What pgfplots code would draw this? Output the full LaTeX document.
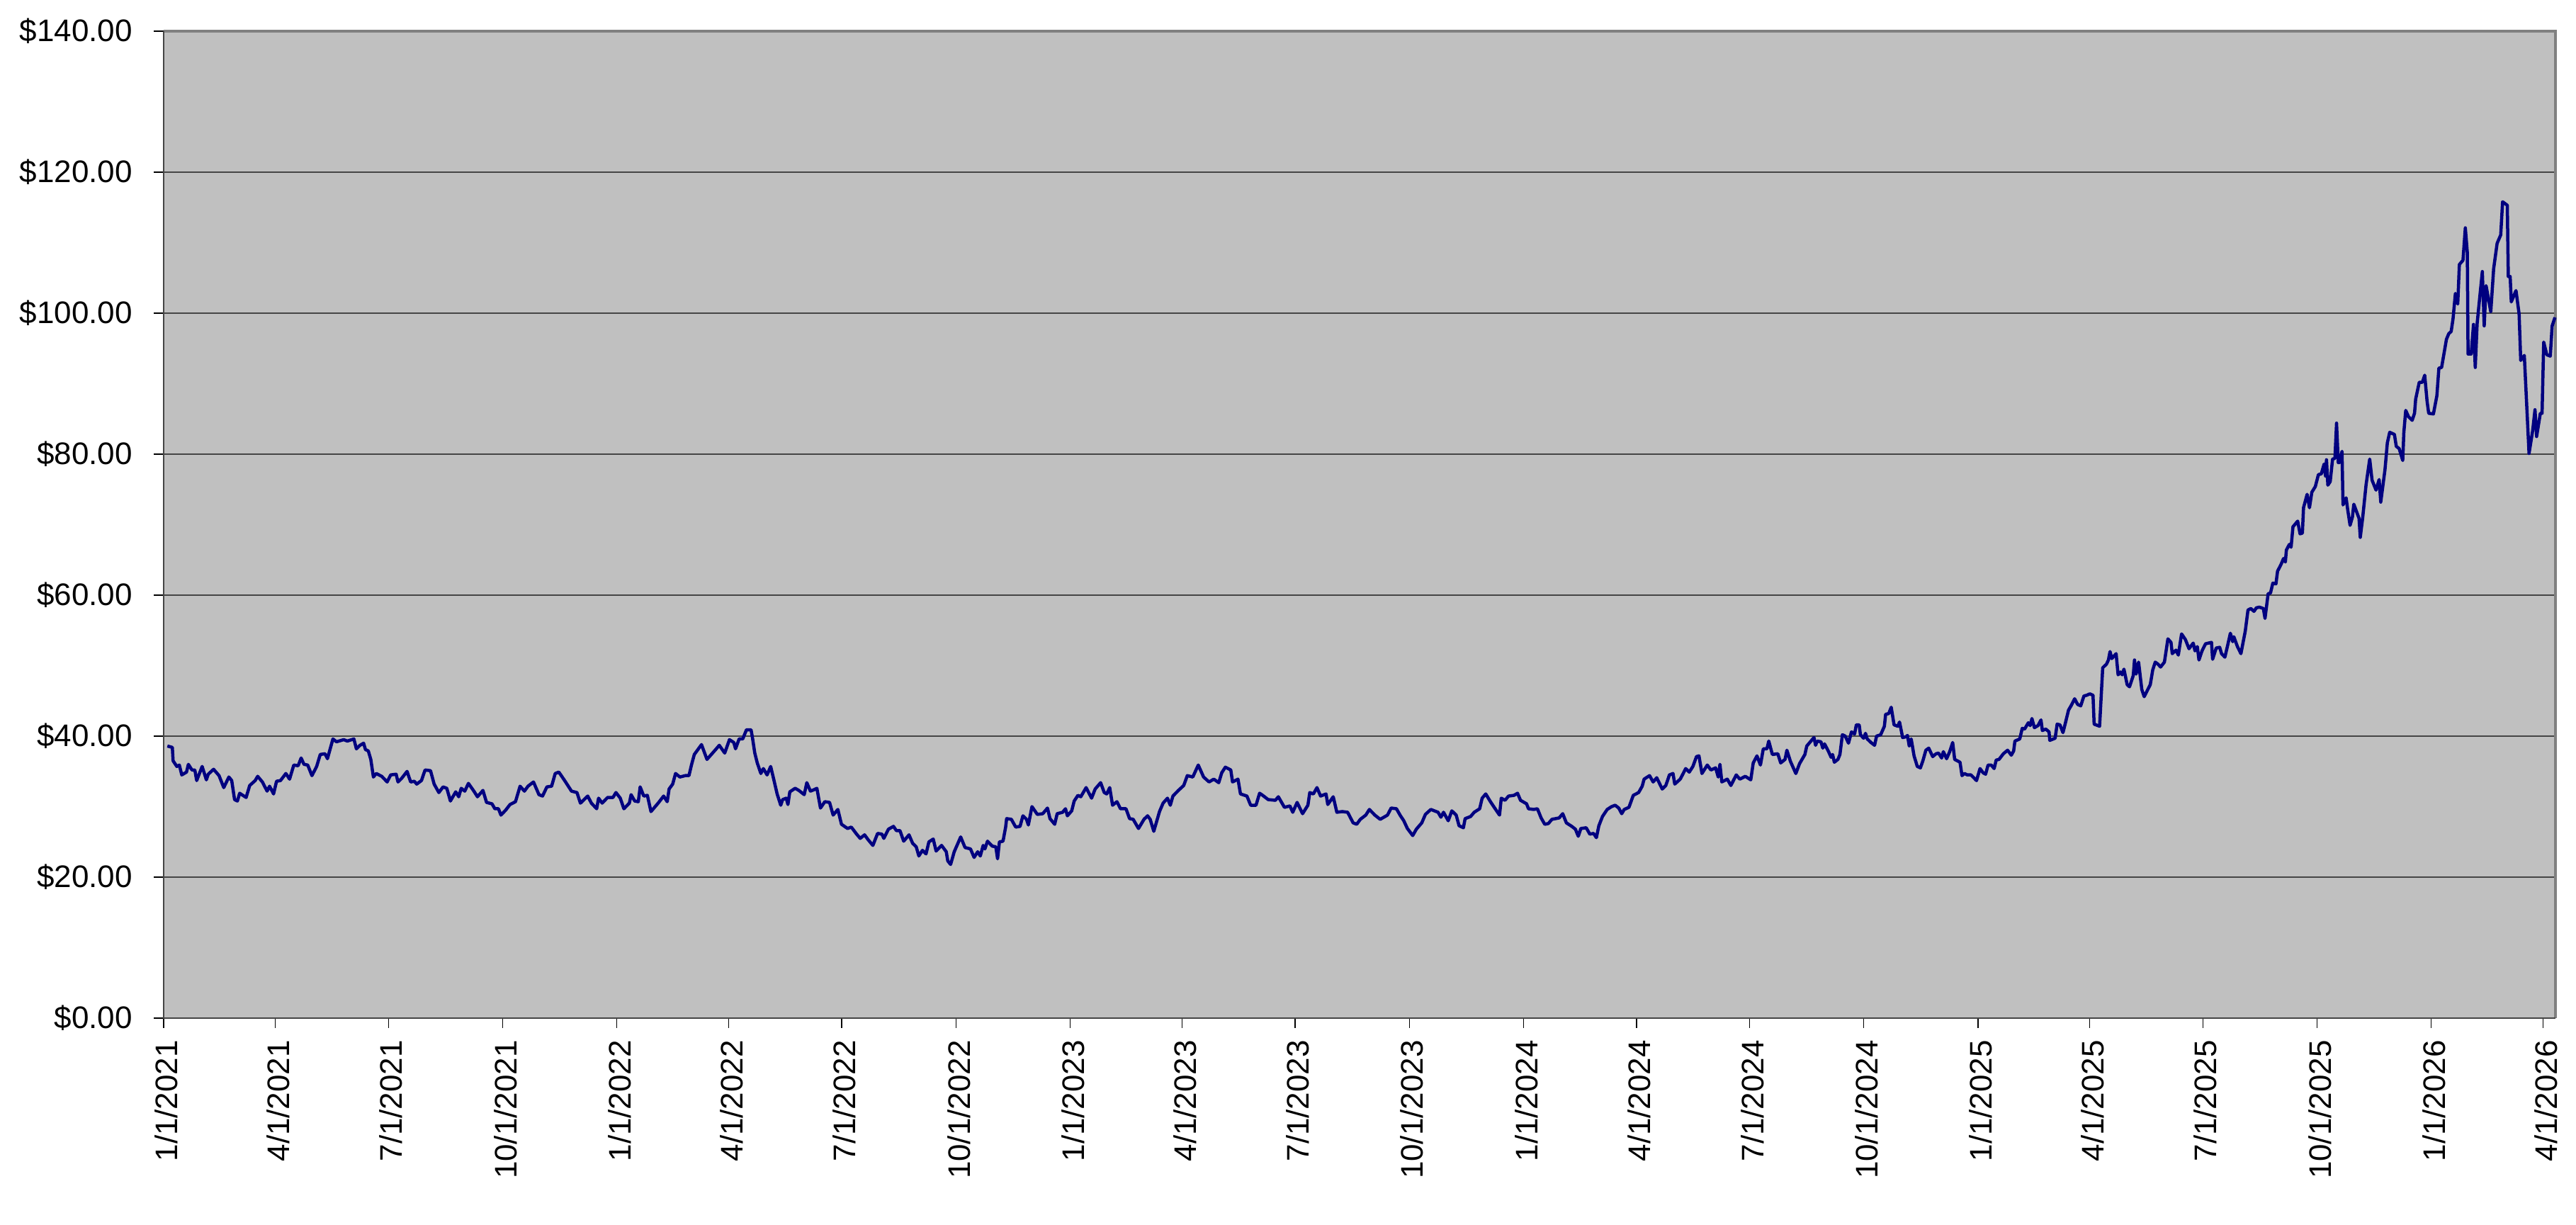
\documentclass[border=0pt]{standalone}
\usepackage{pgfplots}
\pgfplotsset{compat=1.18}
\usepackage{fontspec}
\setmainfont{Liberation Sans}
\definecolor{plotbg}{HTML}{C0C0C0}
\definecolor{gridc}{HTML}{454545}
\definecolor{framec}{HTML}{808080}
\definecolor{linec}{HTML}{000080}
\begin{document}
\begin{tikzpicture}
\begin{axis}[
  at={(0,0)}, anchor=south west,
  scale only axis, width=675.2pt, height=278.6pt,
  xmin=0, xmax=1926, ymin=0, ymax=140,
  axis background/.style={fill=plotbg},
  axis line style={draw=none},
  ymajorgrids, major grid style={draw=gridc, line width=0.3pt},
  tick align=outside, tick pos=left,
  major tick length=2.7pt,
  tick style={draw=black, line width=0.25pt},
  ytick={0,20,40,60,80,100,120,140},
  yticklabels={\$0.00,\$20.00,\$40.00,\$60.00,\$80.00,\$100.00,\$120.00,\$140.00},
  xtick={0,90,181,273,365,455,546,638,730,820,911,1003,1095,1186,1277,1369,1461,1551,1642,1734,1826,1916},
  xticklabels={1/1/2021,4/1/2021,7/1/2021,10/1/2021,1/1/2022,4/1/2022,7/1/2022,10/1/2022,1/1/2023,4/1/2023,7/1/2023,10/1/2023,1/1/2024,4/1/2024,7/1/2024,10/1/2024,1/1/2025,4/1/2025,7/1/2025,10/1/2025,1/1/2026,4/1/2026},
  ticklabel style={font=\fontsize{8.8pt}{10pt}\selectfont},
  yticklabel style={xshift=-2.6pt},
  xticklabel style={rotate=90, anchor=east, yshift=-0.8pt},
  clip=false,
]
\draw[framec, line width=0.7pt] (rel axis cs:0,1) -- (rel axis cs:1,1) -- (rel axis cs:1,0);
\draw[gridc, line width=0.35pt] (rel axis cs:0,1) -- (rel axis cs:0,0) -- (rel axis cs:1,0);
\addplot[linec, line width=0.9pt, line join=round, mark=none] coordinates {
(3,38.6)(7,38.4)(7.6,36.5)(10.6,35.7)(12.6,35.9)(14.6,34.5)(18.4,34.9)(19.9,36.0)(22.8,35.2)(25.1,35.2)(26.6,33.7)(31,35.7)(34.4,33.8)(35.9,34.6)(40.2,35.3)(44.6,34.4)(48.4,32.7)(52.5,34.2)(54.8,33.7)(57.1,31.0)(59.4,30.8)(61.2,31.9)(66.4,31.3)(69.3,33.0)(73.7,33.7)(75.7,34.3)(79.5,33.5)(83.3,32.2)(85.3,32.9)(88.5,31.8)(90.9,33.6)(94.1,33.7)(98.4,34.7)(101.4,33.9)(104.8,35.9)(108.3,35.8)(110.7,36.9)(113,36.0)(116,35.9)(119.4,34.4)(123.2,35.7)(126.1,37.4)(129.9,37.5)(131.9,36.8)(136.3,39.6)(139.2,39.2)(145,39.5)(147.9,39.3)(153.2,39.6)(155.2,38.2)(158.1,38.7)(161,39.0)(162.5,38.1)(164.8,37.9)(166.8,36.7)(168.9,34.2)(171.2,34.7)(175.6,34.3)(180,33.5)(182.8,34.5)(187.2,34.6)(188.7,33.5)(191.6,34.0)(196,35.0)(198.9,33.5)(201.8,33.6)(203.8,33.2)(207.6,33.7)(210.5,35.2)(214.9,35.1)(217.8,33.2)(221.6,32.0)(225,32.8)(228,32.6)(230.9,30.8)(235.2,32.1)(237.6,31.4)(239.6,32.6)(242.5,32.2)(245.4,33.3)(249.8,32.2)(252.7,31.4)(257.1,32.3)(260,30.6)(264.4,30.4)(266.7,29.7)(269.6,29.7)(271.6,28.8)(275.4,29.5)(278.9,30.3)(283.3,30.7)(287,32.9)(290.5,32.2)(293.4,32.9)(297.8,33.5)(302.2,31.7)(305.1,31.5)(308.6,32.8)(312.4,32.9)(315.3,34.7)(318.2,34.9)(320.2,34.4)(324,33.4)(328.4,32.2)(332.8,32.0)(335.6,30.5)(341.5,31.5)(344.4,30.5)(348.7,29.7)(350.2,31.2)(353.1,30.5)(357.5,31.3)(361.8,31.3)(364.2,32.0)(367.7,31.2)(370.6,29.7)(375,30.5)(376.4,31.7)(379.3,30.8)(382.2,30.7)(383.7,32.8)(386.6,31.5)(389.5,31.6)(392.4,29.3)(398.2,30.5)(402.6,31.5)(405.5,30.7)(407,32.5)(409.9,33.2)(412.2,34.7)(415.7,34.2)(420,34.4)(423,34.4)(425,35.9)(427.3,37.4)(433.1,38.8)(437.5,36.7)
(444.5,38.1)(447.4,38.7)(451.8,37.6)(455.6,39.5)(459.1,39.1)(460.5,38.2)(463.4,39.6)(466.3,39.6)(469.3,40.9)(473,40.9)(474.2,39.7)(476,37.6)(478,36.2)(480.9,34.7)(482.9,35.4)(485.9,34.5)(488.8,35.7)(491.1,34.0)(494,31.8)(496.9,30.2)(498.4,31.0)(501.3,31.2)(502.7,30.3)(504.2,32.1)(508.5,32.6)(511.5,32.3)(515.8,31.7)(517.9,33.4)(520.8,32.2)(523.7,32.4)(526,32.6)(528.9,29.8)(532.4,30.7)(536.2,30.6)(539.1,28.8)(542.9,29.6)(545.8,27.5)(550.7,26.9)(553.7,27.1)(558,26.1)(560.9,25.5)(564.4,26.0)(567.3,25.3)(571.1,24.5)(574.9,26.2)(578.4,26.1)(579.9,25.5)(583.6,26.8)(587.7,27.2)(590,26.6)(592.9,26.6)(595.9,25.1)(600.2,26.0)(603.1,24.8)(606,24.3)(608.1,23.0)(611,23.8)(613.9,23.3)(616.2,25.0)(619.7,25.4)(622,23.7)(626.4,24.5)(630.2,23.6)(631.4,22.3)(633.7,21.8)(636.6,23.6)(641.8,25.7)(645.3,24.2)(649.7,24.0)(652.6,22.8)(655.5,23.6)(657.6,23.0)(659.9,24.5)(661.3,24.0)(663.4,25.1)(667.2,24.4)(670.1,24.3)(671.5,22.6)(673,25.0)(675.9,25.1)(678,27.1)(678.8,28.3)(682.6,28.2)(686.1,27.1)(689.6,27.2)(691.9,28.7)(694.8,28.2)(696.3,27.4)(699.2,30.0)(703.5,28.9)(707.9,29.0)(711.7,29.8)(713.7,28.3)(717.5,27.5)(719.5,29.0)(723.9,29.2)(726.2,29.7)(727.7,28.7)(731.2,29.4)(733.2,30.8)(736.2,31.6)(738.5,31.4)(742.8,32.7)(747.2,31.2)(750.1,32.5)(754.5,33.4)(757.4,32.0)(759.4,31.8)(761.8,32.7)(764.1,30.2)(767.6,30.7)(770.5,29.7)(774.9,29.7)(777.8,28.3)(780.7,28.2)(785,26.9)(789.4,28.2)(792.3,28.7)(794.4,28.2)(797.3,26.5)(801.9,29.3)(804.8,30.5)(808.3,31.2)(810.6,30.2)(812.7,31.5)(817.1,32.3)(821.4,33.0)(824.3,34.4)(828.7,34.2)(833.1,35.9)(837.4,34.2)(841.8,33.5)(845.6,33.9)(849.6,33.4)(852,34.8)(854.9,35.6)(859.3,35.2)(860.7,33.5)(865.1,33.9)(867.1,31.8)(872.3,31.5)(875.3,30.2)(879.6,30.2)(882.5,31.9)
(885,31.6)(889.4,31.0)(895.2,30.9)(897.6,31.4)(902.5,29.9)(906.9,30.1)(909.2,29.2)(912.7,30.6)(917.1,29.0)(921.4,30.2)(922.9,32.0)(925.8,31.8)(928.7,32.7)(931.6,31.5)(936,31.8)(937.4,30.3)(941.8,31.4)(944.7,29.2)(949.1,29.3)(953.4,29.2)(957.8,27.7)(960.7,27.5)(963.6,28.2)(968,28.8)(970.9,29.6)(975.3,28.8)(979.6,28.2)(985.5,28.8)(988.4,29.8)(992.7,29.7)(995.6,28.8)(998.6,28.0)(1001.5,26.9)(1005.8,25.9)(1008.7,26.8)(1013.1,27.7)(1016,28.9)(1020.4,29.6)(1026.2,29.2)(1028.5,28.5)(1030.6,29.2)(1034.4,28.0)(1037.3,29.4)(1040.8,28.8)(1043.1,27.3)(1046.6,27.0)(1048,28.3)(1052.4,28.6)(1055.3,29.2)(1059.7,29.7)(1061.7,31.2)(1064.6,31.8)(1068.4,30.7)(1072.2,29.7)(1075.7,28.8)(1077.1,31.2)(1080.1,30.9)(1083,31.5)(1087.3,31.6)(1090.2,31.9)(1092.6,30.9)(1097.5,30.4)(1099,29.7)(1103.3,29.6)(1106.2,29.7)(1109.2,28.4)(1112.1,27.5)(1115,27.6)(1117.9,28.2)(1120.8,28.3)(1123.7,28.4)(1126.6,29.0)(1129.5,27.7)(1133.9,27.2)(1136.8,26.8)(1139.1,25.8)(1141.2,26.9)(1145.5,27.0)(1148.4,26.1)(1151.4,26.2)(1153.7,25.6)(1155.7,27.3)(1158.6,28.6)(1162.4,29.6)(1165.9,30.0)(1168.8,30.2)(1171.7,29.8)(1174.1,29.0)(1176.1,29.6)(1179.9,29.9)(1183.4,31.6)(1187.7,32.0)(1190.6,32.9)(1192.1,33.9)(1196.5,34.4)(1199.4,33.5)(1202.3,34.1)(1206.7,32.5)(1209.6,33.0)(1212.5,34.5)(1215.4,34.7)(1216.8,33.2)(1221.2,33.9)(1222.7,34.4)(1225.6,35.4)(1228.5,34.9)(1231.4,35.7)(1234.3,37.1)(1236.3,37.2)(1238.7,34.7)(1243,35.9)(1245.9,35.2)(1249.7,35.5)(1251.8,34.2)(1253.2,36.0)(1254.7,33.5)(1259.1,33.9)(1262,33.0)(1266.3,34.5)(1269.2,33.9)(1273.6,34.3)(1278,33.8)(1280,36.2)(1283,37.2)(1285.8,35.9)(1288.1,38.2)(1291,38.2)(1292.5,39.3)(1295.4,37.4)(1299.8,37.5)(1302.1,36.2)(1305.6,36.7)(1307.1,38.0)(1310,36.4)(1314.3,34.7)(1317.3,36.1)(1321.6,37.4)(1323.1,38.6)(1328.9,39.8)
(1330.2,38.7)(1331.5,39.3)(1334.5,39.2)(1336,38.3)(1337.4,38.9)(1340.4,37.9)(1342.7,37.0)(1343.9,37.4)(1345.3,36.3)(1348.2,36.7)(1349.8,37.4)(1351.8,40.2)(1354.1,40.0)(1356.7,39.0)(1359.1,40.6)(1361.6,40.3)(1363,41.6)(1365.3,41.6)(1366.3,40.2)(1368.9,39.7)(1370.4,40.4)(1371.8,39.6)(1374.8,39.1)(1377.7,38.7)(1379.3,40.0)(1382.6,40.2)(1385.6,41.4)(1386.6,43.1)(1389.1,43.2)(1391.1,44.1)(1393.4,41.6)(1396.4,41.4)(1397.8,42.0)(1400.3,39.8)(1402.9,39.9)(1404.2,40.1)(1405.6,38.6)(1407.2,39.6)(1409.5,37.2)(1412.1,35.7)(1414.6,35.5)(1416.6,36.5)(1419,38.0)(1421.3,38.3)(1424.5,37.1)(1427.2,37.5)(1429.2,37.6)(1431.7,36.9)(1433.1,37.8)(1435.7,36.8)(1438.2,37.8)(1440.6,39.1)(1442.2,36.7)(1446.5,36.3)(1448.1,34.4)(1450,34.7)(1452.4,34.5)(1455.3,34.5)(1459.8,33.7)(1462.6,35.4)(1465.1,34.8)(1467.1,34.6)(1469.1,35.9)(1471.6,35.9)(1474,35.4)(1475.6,36.6)(1477.9,36.7)(1481.4,37.5)(1484.8,38.0)(1487.8,37.3)(1489.7,37.9)(1490.7,39.3)(1494.6,39.6)(1496.6,41.1)(1498.5,41.0)(1501.5,41.9)(1503,41.5)(1504.4,42.5)(1506.4,41.2)(1509.3,41.5)(1511.7,42.3)(1512.8,40.8)(1515.6,41.0)(1518.2,40.6)(1518.8,39.4)(1523.1,39.7)(1524.7,41.7)(1527,41.6)(1529.4,40.5)(1531.4,41.9)(1533.9,43.7)(1535.9,44.3)(1538.8,45.3)(1541.2,44.5)(1543.7,44.3)(1546.3,45.7)(1548.6,45.8)(1551,46.0)(1553.6,45.8)(1554.5,41.7)(1558.9,41.4)(1561.4,49.7)(1564.4,50.2)(1566,50.8)(1567.3,52.0)(1568.7,51.0)(1572.2,51.7)(1573.8,48.7)(1575.8,49.1)(1577.1,48.7)(1578.5,49.5)(1581.1,47.3)(1583,47.0)(1586,48.6)(1587,50.8)(1588.3,48.8)(1590.3,50.5)(1592.9,46.6)(1594.8,45.6)(1596.8,46.3)(1599.7,47.3)(1601.7,49.4)(1603.7,50.5)(1606,50.2)(1608,49.8)(1611.1,50.5)(1613.9,53.8)(1616.4,53.3)(1617.4,51.7)(1620.4,52.2)(1622.3,51.5)(1624.9,54.5)
(1628,53.7)(1630.9,52.4)(1634.3,53.2)(1635.7,52.1)(1637.6,52.7)(1638.9,50.8)(1641.4,52.1)(1644.2,53.1)(1649,53.3)(1649.9,50.9)(1652.8,52.5)(1655.6,52.6)(1657.1,51.7)(1659.8,51.2)(1662.3,53.1)(1664.2,54.6)(1666.1,53.4)(1667,54.1)(1669.9,52.7)(1672.7,51.7)(1676.2,54.9)(1678.4,57.9)(1680.7,58.1)(1683.2,57.7)(1685.1,58.2)(1687.6,58.3)(1690.8,58.1)(1692.1,56.7)(1694.6,60.2)(1696.5,60.3)(1698.4,61.7)(1700.9,61.6)(1702.2,63.4)(1705.1,64.4)(1707,65.2)(1708.5,64.7)(1709.3,66.4)(1711.7,67.2)(1713.1,66.8)(1714.6,69.7)(1718.4,70.5)(1720.3,68.7)(1722.2,68.8)(1723.1,72.4)(1726,74.3)(1727.9,72.4)(1729.8,74.6)(1732.6,75.4)(1735.1,77.1)(1737.4,77.2)(1739.7,78.6)(1740.8,76.9)(1741.6,79.2)(1742.7,75.6)(1744.6,76.1)(1746.5,79.3)(1748.4,79.4)(1749.7,84.4)(1751.1,78.8)(1752.2,78.8)(1754.1,80.4)(1754.9,72.8)(1757.4,73.8)(1758.7,72.1)(1760.6,69.9)(1762.5,71.1)(1763.6,72.9)(1765.9,71.8)(1767.8,70.9)(1768.8,68.2)(1770.7,70.9)
(1773.5,75.7)(1776.4,79.3)(1778.3,76.3)(1781.5,74.9)(1784,76.4)(1785.3,73.2)(1788.7,77.8)(1790.6,81.6)(1792.5,83.1)(1796.3,82.8)(1797.8,81.1)(1800.1,80.8)(1803,79.1)(1803.9,83.1)(1805.4,86.2)(1807.7,85.3)(1810.6,84.8)(1812.5,85.8)(1813.4,87.8)(1816.3,90.2)(1818.8,90.2)(1820.7,91.2)(1822.6,87.5)(1823.9,85.8)(1827.7,85.7)(1830.5,88.3)(1832.1,92.2)(1834.3,92.3)(1838.2,96.3)(1840.1,97.1)(1842,97.4)(1843.5,99.2)(1845.4,102.8)(1847.3,101.3)(1848.6,106.9)(1851.5,107.5)(1853.4,112.1)(1855,108.6)(1855.6,94.2)(1858.1,94.2)(1860,98.4)(1861.4,92.3)(1862.9,98.5)(1864.8,101.9)(1867.1,105.9)(1868.6,98.2)(1870.1,103.9)(1873.9,100.2)(1876.2,106.3)(1879,109.9)(1881.9,111.1)(1883.4,115.8)(1887.2,115.3)(1888,105.2)(1889.5,105.2)(1890.4,101.6)(1894.2,103.2)(1896.7,99.9)(1898,93.3)(1900.9,94.0)(1904.7,80.1)(1907.6,83.3)(1909.5,86.3)(1910.8,82.5)(1913.8,85.8)(1915.2,85.8)(1916.5,95.9)(1919,94.1)(1921.8,93.9)(1923.3,98.2)(1925.6,99.4)
};
\end{axis}
\pgfresetboundingbox
\path[use as bounding box] (-46.2pt,-58.2pt) rectangle (681pt,287.4pt);
\end{tikzpicture}
\end{document}
